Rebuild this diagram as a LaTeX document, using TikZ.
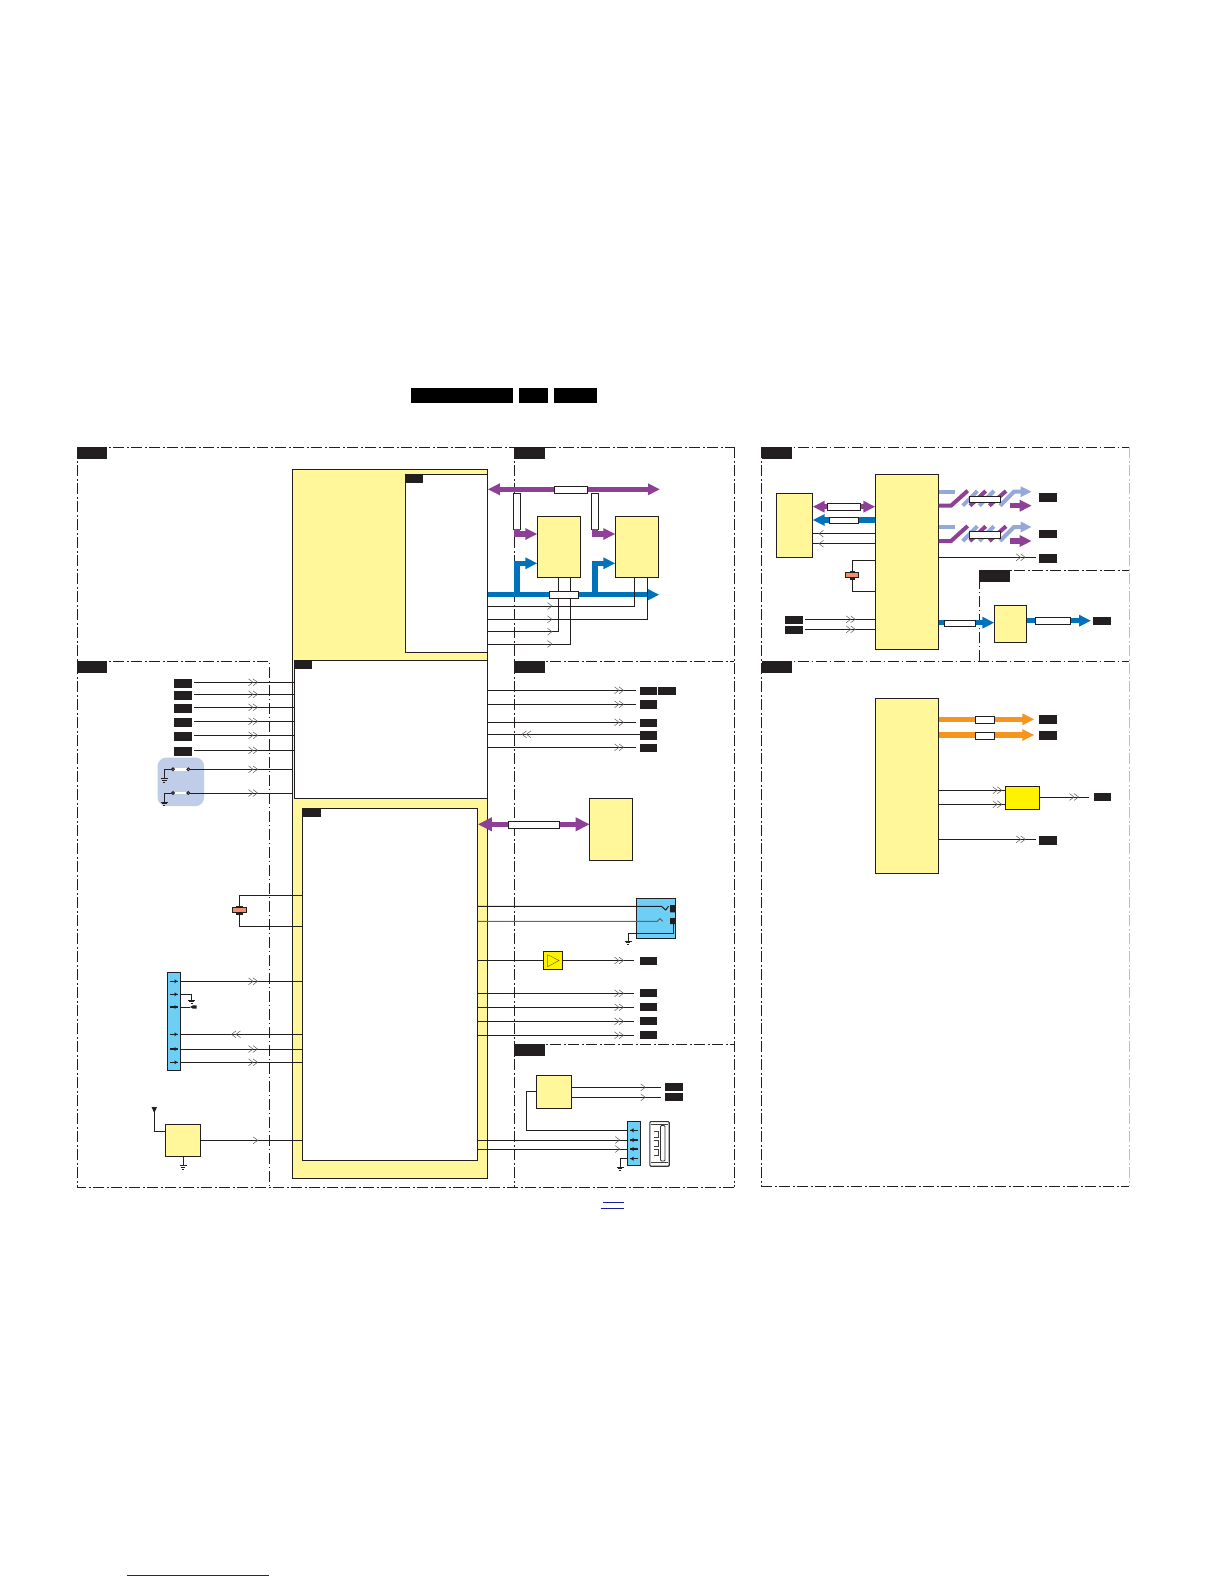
\documentclass[tikz,border=0pt]{standalone}
\usepackage{xcolor}
\usetikzlibrary{arrows.meta,positioning,calc}
\definecolor{cirnoir}{HTML}{231F20}
\definecolor{cirjaune}{HTML}{FFF799}
\definecolor{cirvif}{HTML}{FFF200}
\definecolor{cirviolet}{HTML}{8E3F96}
\definecolor{cirbleu}{HTML}{0072BC}
\definecolor{circiel}{HTML}{6DCFF6}
\definecolor{cirpale}{HTML}{94A9D8}
\definecolor{cirlav}{HTML}{C0CDE8}
\definecolor{cirorange}{HTML}{F7941D}
\definecolor{cirsaumon}{HTML}{F08E6E}
\definecolor{cirlien}{HTML}{1B1B9E}

\begin{document}
\begin{tikzpicture}[
    x=1pt,y=-1pt,
    taille/.style 2 args={minimum width=#1pt,minimum height=#2pt},
    bloc/.style   = {rectangle,draw=cirnoir,fill=cirjaune,line width=1pt,anchor=north west,
                     inner sep=0pt,outer sep=0pt},
    vif/.style    = {bloc,fill=cirvif},
    blanc/.style  = {bloc,fill=white},
    ciel/.style   = {bloc,fill=circiel},
    serie/.style  = {rectangle,draw=cirnoir,fill=white,line width=0.8pt,inner sep=0pt,outer sep=0pt},
    etiq/.style   = {rectangle,fill=cirnoir,inner sep=0pt,outer sep=0pt,taille={18}{8.6}},
    onglet/.style = {rectangle,fill=cirnoir,inner sep=0pt,outer sep=0pt,anchor=north west},
    quartz/.style = {rectangle,draw=cirnoir,fill=cirsaumon,line width=0.6pt,inner sep=0pt,outer sep=0pt},
    cadre/.style  = {cirnoir,line width=0.8pt,dash pattern=on 11pt off 3pt on 1.5pt off 2.5pt},
    fil/.style    = {cirnoir,line width=1pt},
    chev/.style   = {black!65,line width=0.5pt},
    grosv/.style  = {cirviolet,line width=5.5pt,-{Triangle[length=12pt,width=11pt]}},
    grosvv/.style = {cirviolet,line width=5.5pt,{Triangle[length=12pt,width=11pt]}-{Triangle[length=12pt,width=11pt]}},
    grosb/.style  = {cirbleu,line width=5.5pt,-{Triangle[length=12pt,width=11pt]}},
    groso/.style  = {cirorange,line width=5.5pt,-{Triangle[length=12pt,width=11pt]}},
    rayv/.style   = {cirviolet,line width=4pt},
    rayp/.style   = {cirpale,line width=4pt},
    lien/.style   = {cirlien,line width=1pt},
    chevd/.pic    = {\draw[chev] (-5.5,-3.4)--(-1,0)--(-5.5,3.4) (-1,-3.4)--(3.5,0)--(-1,3.4);},
    chevs/.pic    = {\draw[chev] (-2.5,-3.4)--(2,0)--(-2.5,3.4);},
    masse/.pic    = {\draw[cirnoir,line width=0.8pt] (-3.5,0)--(3.5,0) (-2.3,1.8)--(2.3,1.8) (-1.1,3.6)--(1.1,3.6);},
    broche/.pic   = {\draw[cirnoir,line width=1.3pt] (-4,0)--(4,0);\fill[cirnoir] (0.5,-2)--(3.5,0)--(0.5,2)--cycle;},
  ]
  \useasboundingbox (0,0) rectangle (1224,1584);

  % -- en-tete
  \fill[black] (411,388) rectangle (513.4,403);
  \node[onglet,fill=black,taille={29}{15}] (titreB) at (519,388) {};
  \node[onglet,fill=black,taille={43}{15}] (titreC) at (554,388) {};

  % -- cadres
  \draw[cadre] (77,447) -- (734.3,447) (77,447) -- (77,1187) -- (734.3,1187);
  \draw[cadre] (734.3,447) -- (734.3,1187);
  \draw[cadre] (77,661.3) -- (269.5,661.3) -- (269.5,1187);
  \draw[cadre] (514.3,447) -- (514.3,1187);
  \draw[cadre] (514.3,661.3) -- (734.3,661.3) (514.3,1044.3) -- (734.3,1044.3);
  \draw[cadre] (761.7,447.3) -- (1129.3,447.3) (761.7,447.3) -- (761.7,1186) -- (1129.3,1186);
  \draw[cadre,black!25] (1129.3,447.3) -- (1129.3,1186);
  \draw[cadre] (761.7,661.3) -- (1129.3,661.3);
  \draw[cadre] (979.3,661.3) -- (979.3,570.3) -- (1129.3,570.3);

  \node[onglet,taille={30}{11.7}] (ongA) at (77,447.3) {};
  \node[onglet,taille={31}{11.7}] (ongB) at (514.2,447.3) {};
  \node[onglet,taille={30}{11.7}] (ongC) at (77,661.3) {};
  \node[onglet,taille={31}{11.7}] (ongD) at (514.2,661.3) {};
  \node[onglet,taille={31}{11.7}] (ongE) at (514.2,1044.3) {};
  \node[onglet,taille={30.3}{11.7}] (ongF) at (761.7,447.3) {};
  \node[onglet,taille={30.3}{11.7}] (ongG) at (761.7,661) {};
  \node[onglet,taille={30.7}{11.7}] (ongH) at (979.3,570.3) {};

  % -- carte principale
  \node[bloc,taille={195.3}{709}]  (carte) at (292.5,469.3) {};
  \node[blanc,taille={81.5}{178}]  (ucA)   at (405.8,474.3) {};
  \node[blanc,taille={192.6}{138}] (ucB)   at (294.7,660.3) {};
  \node[blanc,taille={175.8}{352}] (ucC)   at (302,808.3) {};
  \node[onglet,taille={17.2}{8.5}] (ongUa) at (405.8,474.3) {};
  \node[onglet,taille={17.3}{8.5}] (ongUb) at (294.7,660.3) {};
  \node[onglet,taille={19}{8.5}]   (ongUc) at (302,808.3) {};

  % -- tuners
  \node[bloc,taille={43.4}{61}] (tunA) at (537.3,516.3) {};
  \node[bloc,taille={43.4}{61}] (tunB) at (615.3,516.3) {};
  \coordinate (finV) at (660,489.3);
  \coordinate (finB) at (659.3,594.7);
  \node[serie,taille={7.4}{36}] (rvA) at (517,511.3) {};
  \node[serie,taille={7.4}{36}] (rvB) at (595,511.3) {};

  \draw[grosvv] (carte.east |- finV) -- (finV);
  \draw[grosb] (carte.east |- finB) -- (finB);
  \draw[grosb] (rvA.south |- finB) |- (tunA.west |- 0,563.3);
  \draw[grosb] (rvB.south |- finB) |- (tunB.west |- 0,563.3);
  \draw[grosv] (rvA.south) |- (tunA.west |- 0,534);
  \draw[grosv] (rvB.south) |- (tunB.west |- 0,534);
  \draw[fil] (634.7,0 |- tunB.south) |- (ucA.east |- 0,606);
  \draw[fil] (647.3,0 |- tunB.south) |- (ucA.east |- 0,619.3);
  \draw[fil] (558.3,0 |- tunA.south) |- (ucA.east |- 0,631.7);
  \draw[fil] (570.3,0 |- tunA.south) |- (ucA.east |- 0,644);
  \foreach \y in {606,619.3,631.7,644}
    \pic at (550,\y) {chevs};
  \node[serie,taille={33.4}{7}] (rhV) at (571,489.8) {};
  \node[serie,taille={29.4}{7.4}] (rhB) at (564,595) {};

  % -- entrees a gauche
  \foreach \n/\y in {1/682.3,2/694.3,3/707.3,4/721.3,5/735.3,6/750.3} {
    \node[etiq] (ent\n) at (183,\y+1) {};
    \draw[fil] ([xshift=2pt,yshift=1pt]ent\n.east) -- (ucB.west |- 0,\y);
    \pic at (254,\y) {chevd};
  }
  \node[rectangle,fill=cirlav,rounded corners=9pt,taille={46.7}{48.7},anchor=north west,
        inner sep=0pt] (touches) at (157.3,757.3) {};
  \foreach \n/\y in {1/769.3,2/793} {
    \coordinate (btn\n) at (188.3,\y);
    \draw[white,line width=2.5pt] (173,\y) -- (btn\n);
    \draw[fil] (btn\n) -- (carte.west |- btn\n);
    \draw[fil] (171.5,\y) -- (164.3,\y) -- (164.3,\y+9);
    \pic at (164.3,\y+9) {masse};
    \draw[fil,fill=white] (173,\y) circle (1.4);
    \draw[fil,fill=white] (btn\n) circle (1.4);
    \pic at (254,\y) {chevd};
  }

  % -- quartz gauche
  \coordinate (xtA) at (239.6,895.3);
  \coordinate (xtB) at (239.6,926.3);
  \draw[fil] (ucC.west |- xtA) -- (xtA) -- (xtB) -- (ucC.west |- xtB);
  \fill[cirnoir] (236,905.5) rectangle (243.2,915);
  \node[quartz,taille={14.3}{5}] (xtal) at (239.6,910.2) {};

  % -- connecteur gauche
  \node[ciel,taille={13.4}{98}] (conA) at (167.3,972.3) {};
  \foreach \y in {981.3,1034.3,1049,1062.3}
    \draw[fil] (conA.east |- 0,\y) -- (ucC.west |- 0,\y);
  \draw[fil] (conA.east |- 0,994.3) -| (191.7,1000);
  \pic at (191.7,1000) {masse};
  \draw[fil] (conA.east |- 0,1007) -- (190,1007);
  \fill[cirnoir] (190,1007) -- (193,1005.3) -- (196.7,1005.3) -- (196.7,1008.7) -- (193,1008.7) -- cycle;
  \foreach \y in {981.3,994.3,1007,1034.3,1049,1062.3}
    \pic at (174,\y) {broche};
  \foreach \y in {981.3,1049,1062.3}
    \pic at (254,\y) {chevd};
  \pic[rotate=180] at (235,1034.3) {chevd};

  % -- recepteur
  \node[bloc,taille={35.4}{32}] (recep) at (165.3,1124.3) {};
  \fill[cirnoir] (151.5,1107) -- (157,1107) -- (154.3,1113) -- cycle;
  \coordinate (ante) at (154.3,1112);
  \draw[fil] (ante) |- (recep.west |- 0,1131.3);
  \draw[fil] (recep.east |- 0,1140.3) -- (ucC.west |- 0,1140.3);
  \pic at (255.7,1140.3) {chevs};
  \draw[fil] (recep.south) -- ++(0,9);
  \pic at ($(recep.south)+(0,9)$) {masse};

  % -- sorties milieu
  \foreach \n/\y/\t in {1/690.3/690.9,2/704.3/704.5,3/722.3/723,4/747.3/748} {
    \node[etiq,taille={17.4}{8.5}] (sor\n) at (648.7,\t) {};
    \draw[fil,shorten >=4pt] (ucB.east |- 0,\y) -- (sor\n.west |- 0,\y);
    \pic at (620,\y) {chevd};
  }
  \node[etiq,taille={17.7}{8.5}] (sorB) at (667.2,690.9) {};
  \node[etiq,taille={17.4}{8.5}] (sor5) at (648.7,735.5) {};
  \draw[fil] (ucB.east |- 0,734.3) -- (sor5.west |- 0,734.3);
  \pic[rotate=180] at (525.5,734.3) {chevd};

  % -- memoire
  \node[bloc,taille={43}{62}] (mem) at (589.7,798.3) {};
  \draw[cirviolet,line width=5.5pt,{Triangle[length=14pt,width=13pt]}-{Triangle[length=14pt,width=13pt]}]
    (ucC.east |- 0,824.3) -- (mem.west |- 0,824.3);
  \node[serie,taille={51.2}{7.4}] (rmem) at (534.2,825) {};

  % -- jack
  \node[ciel,taille={39.4}{40.4}] (jack) at (636.3,898.3) {};
  \fill[cirnoir] (670,905) rectangle (675.7,912.3) (670,918) rectangle (675.7,924);
  \draw[fil] (ucC.east |- 0,906.3) -- (661.5,906.3) -- (665.7,910) -- (668.5,906.3);
  \draw[black!60,line width=1pt] (ucC.east |- 0,921.3) -- (657.3,921.3) -- (660,918.6) -- (662.7,921.3);
  \draw[fil] (673.3,924) -- (673.3,933.3) -- (628,933.3) -- (628,941);
  \pic at (628,941) {masse};

  % -- ampli
  \node[vif,taille={19.1}{18.4}] (ampli) at (543.7,951.3) {};
  \draw[black!55!cirvif,line width=0.5pt] (547.6,954.7) -- (559,960.5) -- (547.6,966.7) -- cycle;
  \node[etiq,taille={17.4}{8}] (sorA) at (648.7,961) {};
  \draw[fil] (ucC.east |- ampli.west) -- (ampli.west);
  \draw[fil,shorten >=6pt] (ampli.east) -- (sorA.west |- ampli.east);
  \pic at (620,960.5) {chevd};
  \foreach \n/\y in {1/993.3,2/1007.3,3/1021.3,4/1035.3} {
    \node[etiq,taille={17.4}{8.2}] (sorC\n) at (648.7,\y) {};
    \draw[fil,shorten >=6pt] (ucC.east |- 0,\y) -- (sorC\n.west);
    \pic at (620,\y) {chevd};
  }

  % -- usb
  \node[bloc,taille={35.4}{33.4}] (usbc) at (536.3,1075.3) {};
  \node[ciel,taille={13.4}{44.7}] (conB) at (627.3,1121) {};
  \draw[fil] (usbc.west |- 0,1091.3) -| (526.3,1130.3) -- (conB.west |- 0,1130.3);
  \foreach \n/\y in {1/1087.3,2/1097.3} {
    \node[etiq,taille={18}{8}] (usbe\n) at (674,\y) {};
    \draw[fil,shorten >=4pt] (usbc.east |- 0,\y) -- (usbe\n.west);
    \pic at (643.3,\y) {chevs};
  }
  \foreach \y in {1140,1149} {
    \draw[fil] (ucC.east |- 0,\y) -- (conB.west |- 0,\y);
    \pic at (617.7,\y) {chevs};
  }
  \draw[fil] (conB.west |- 0,1158.7) -- (620,1158.7) -- (620,1167);
  \pic at (620,1167) {masse};
  \foreach \y in {1130.3,1140,1149,1158.7}
    \pic[rotate=180] at (634,\y) {broche};
  \node[rectangle,draw=black!80,line width=1.1pt,rounded corners=1pt,taille={19.4}{44.7},
        anchor=north west,inner sep=0pt] (usbp) at (649.3,1121) {};
  \draw[black!75,line width=0.7pt] (650.5,1124.5) -- (667.5,1124.5) (650.5,1162) -- (667.5,1162);
  \draw[black!80,line width=0.8pt,rounded corners=1pt] (660.5,1125.5) rectangle (665,1161);
  \foreach \y in {1131,1140,1149}
    \draw[black!75,line width=0.7pt] (653.5,\y) -- (658,\y) -- (658,\y+6) -- (653.5,\y+6);

  % -- partie droite haut
  \node[bloc,taille={63.4}{175}] (socA) at (875.3,474.3) {};
  \node[bloc,taille={36.4}{64}]  (memA) at (776.3,493.3) {};
  \draw[grosvv] (socA.west |- 0,506.7) -- (memA.east |- 0,506.7);
  \draw[grosb] (socA.west |- 0,520) -- (memA.east |- 0,520);
  \node[serie,taille={33.4}{7.4}] (rmA) at (844,507) {};
  \node[serie,taille={29.4}{6.4}] (rmB) at (844,520.5) {};
  \foreach \y in {533.7,543.7} {
    \draw[fil] (socA.west |- 0,\y) -- (memA.east |- 0,\y);
    \pic[rotate=180] at (821,\y) {chevs};
  }
  \coordinate (xtC) at (852.3,560.7);
  \coordinate (xtD) at (852.3,591.3);
  \draw[fil] (socA.west |- xtC) -- (xtC) -- (xtD) -- (socA.west |- xtD);
  \fill[cirnoir] (849.5,570.5) rectangle (855,579.5);
  \node[quartz,taille={13.4}{5.4}] (xtalB) at (852,575) {};
  \foreach \n/\y in {1/619.3,2/629.3} {
    \node[etiq] (cde\n) at (794,\y+0.7) {};
    \draw[fil] ([xshift=2pt,yshift=0.7pt]cde\n.east) -- (socA.west |- 0,\y);
    \pic at (851.7,\y) {chevd};
  }

  \foreach \d/\n in {0/1,35.3/2} {
    \begin{scope}[yshift=-\d pt]
      \draw[rayp] (socA.east |- 0,491.7) -- (955,491.7);
      \draw[rayv] (socA.east |- 0,505.7) -- (951,505.7) -- (967.7,490.7);
      \draw[rayp] (962.7,505.7) -- (977.3,491);
      \draw[rayv] (970,505.7) -- (985.7,491);
      \draw[rayp] (979.3,505.7) -- (994,491);
      \draw[rayv] (989.3,505.7) -- (1006,491);
      \draw[rayp,-{Triangle[length=11pt,width=10pt]}] (1000,505.7) -- (1014,491.7) -- (1031.7,491.7);
      \draw[grosv] (1010,505.7) -- (1031.7,505.7);
      \node[serie,taille={31.4}{6.4}] (rsd\n) at (985,499.5) {};
    \end{scope}
  }
  \node[etiq,taille={18}{8.7}] (hdA) at (1048,497.4) {};
  \node[etiq,taille={18}{8.4}] (hdB) at (1048,533.8) {};
  \node[etiq,taille={18}{8.7}] (hdC) at (1048,558.4) {};
  \draw[fil,shorten >=3pt] (socA.east |- 0,557.3) -- (hdC.west |- 0,557.3);
  \pic at (1021.7,557.3) {chevd};

  \node[bloc,taille={32.4}{37}] (sortie) at (994.3,605.3) {};
  \draw[grosb] (socA.east |- 0,622.7) -- (sortie.west |- 0,622.7);
  \node[serie,taille={31.4}{6.4}] (rsA) at (960,623.5) {};
  \node[etiq,taille={18}{8}] (sorD) at (1102,621) {};
  \draw[grosb] (sortie.east |- 0,620.7) -- (1091,620.7);
  \node[serie,taille={35.4}{7.4}] (rsB) at (1053,621) {};

  % -- partie droite bas
  \node[bloc,taille={63.4}{175}] (socB) at (875.3,698.3) {};
  \foreach \n/\y/\t/\h in {1/719.3/719.5/7.4,2/735/735.5/6.7} {
    \node[etiq,taille={18}{9}] (or\n) at (1048,\t) {};
    \draw[groso] (socB.east |- 0,\y) -- (1034.3,\y);
    \node[serie,taille={19.4}{\h}] (rso\n) at (985,\y+0.7) {};
  }
  \node[vif,taille={34.4}{23.4}] (cvbs) at (1005.3,786.3) {};
  \foreach \y in {790.3,804.3} {
    \draw[fil] (socB.east |- 0,\y) -- (cvbs.west |- 0,\y);
    \pic at (998.3,\y) {chevd};
  }
  \node[etiq,taille={17}{8}] (sorE) at (1102.5,797) {};
  \draw[fil,shorten >=5pt] (cvbs.east |- 0,797) -- (sorE.west);
  \pic at (1075,797) {chevd};
  \node[etiq,taille={18}{9}] (sorF) at (1048,840.5) {};
  \draw[fil,shorten >=3pt] (socB.east |- 0,839.3) -- (sorF.west |- 0,839.3);
  \pic at (1021.7,839.3) {chevd};

  % -- liens
  \draw[lien] (602.7,1202.3) -- (624,1202.3);
  \draw[lien] (600.8,1208.3) -- (624,1208.3);
  \draw[lien] (126.8,1575.3) -- (269,1575.3);
\end{tikzpicture}
\end{document}
